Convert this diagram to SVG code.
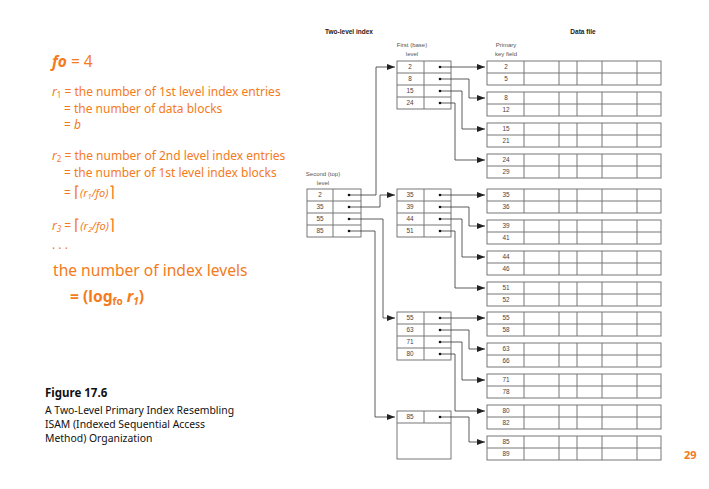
<svg xmlns="http://www.w3.org/2000/svg" width="709" height="489" viewBox="0 0 709 489">
<defs>
<marker id="ah" markerUnits="userSpaceOnUse" markerWidth="8" markerHeight="6" refX="8" refY="3" orient="auto">
<path d="M0,0 L8,3 L0,6 z" fill="#222"/>
</marker>
<style>
.or{font-family:"Noto Sans","Liberation Sans",sans-serif;fill:#F47B20}
.cap{font-family:"Noto Sans","Liberation Sans",sans-serif;fill:#111}
.lbl{font-family:"Liberation Sans",Arial,sans-serif;font-size:6px;fill:#555;text-anchor:middle}
.hd{font-family:"Liberation Sans",Arial,sans-serif;font-size:6.5px;font-weight:bold;fill:#222;text-anchor:middle}
.num{font-family:"Liberation Sans",Arial,sans-serif;font-size:6.4px;fill:#444;text-anchor:middle}
.box{fill:#fff;stroke:#777;stroke-width:1}
.ln{fill:none;stroke:#777;stroke-width:1}
.con{fill:none;stroke:#333;stroke-width:0.8;marker-end:url(#ah)}
.dot{fill:#111}
</style>
</defs>
<rect width="709" height="489" fill="#fff"/>

<g id="left-text">
<text class="or" x="52" y="67" font-size="15.5"><tspan font-weight="bold" font-style="italic">fo</tspan> = 4</text>
<text class="or" x="52" y="96" font-size="12"><tspan font-style="italic">r</tspan><tspan font-size="8" dy="2">1</tspan><tspan dy="-2"> = the number of 1st level index entries</tspan></text>
<text class="or" x="64" y="112.5" font-size="12">= the number of data blocks</text>
<text class="or" x="64" y="129" font-size="12">= <tspan font-style="italic">b</tspan></text>
<text class="or" x="52" y="160" font-size="12"><tspan font-style="italic">r</tspan><tspan font-size="8" dy="2">2</tspan><tspan dy="-2"> = the number of 2nd level index entries</tspan></text>
<text class="or" x="64" y="176.5" font-size="12">= the number of 1st level index blocks</text>
<text class="or" x="64" y="197" font-size="12">= <tspan font-size="15">⌈</tspan><tspan font-style="italic" font-size="11">(r</tspan><tspan font-style="italic" font-size="7.5" dy="2">1</tspan><tspan font-style="italic" font-size="11" dy="-2">/fo)</tspan><tspan font-size="15">⌉</tspan></text>
<text class="or" x="52" y="230" font-size="12"><tspan font-style="italic">r</tspan><tspan font-style="italic" font-size="8" dy="2">3</tspan><tspan dy="-2"> = </tspan><tspan font-size="15">⌈</tspan><tspan font-style="italic" font-size="11">(r</tspan><tspan font-style="italic" font-size="7.5" dy="2">2</tspan><tspan font-style="italic" font-size="11" dy="-2">/fo)</tspan><tspan font-size="15">⌉</tspan></text>
<text class="or" x="52" y="249" font-size="12">. . .</text>
<text class="or" x="53" y="276" font-size="15.6">the number of index levels</text>
<text class="or" x="70" y="302" font-size="15.6" font-weight="bold">= (log<tspan font-size="10" dy="3">fo</tspan><tspan dy="-3"> </tspan><tspan font-style="italic">r</tspan><tspan font-style="italic" font-size="10" dy="3">1</tspan><tspan dy="-3">)</tspan></text>
</g>

<g id="caption">
<text class="cap" x="45" y="397" font-size="11.5" font-weight="bold">Figure 17.6</text>
<text class="cap" x="45" y="414" font-size="10.4">A Two-Level Primary Index Resembling</text>
<text class="cap" x="45" y="428" font-size="10.4">ISAM (Indexed Sequential Access</text>
<text class="cap" x="45" y="442" font-size="10.4">Method) Organization</text>
</g>

<text class="or" x="684" y="459" font-size="11" font-weight="bold">29</text>

<g id="headers">
<text class="hd" x="349" y="34">Two-level index</text>
<text class="hd" x="583" y="34">Data file</text>
<text class="lbl" x="412" y="47">First (base)</text>
<text class="lbl" x="412" y="56">level</text>
<text class="lbl" x="506" y="47">Primary</text>
<text class="lbl" x="506" y="56">key field</text>
<text class="lbl" x="323" y="176">Second (top)</text>
<text class="lbl" x="323" y="185">level</text>
</g>

<g id="second-level">
<rect class="box" x="307" y="189" width="54" height="48"/>
<path class="ln" d="M333,189V237M307,201H361M307,213H361M307,225H361"/>
<text class="num" x="320" y="197">2</text>
<text class="num" x="320" y="209">35</text>
<text class="num" x="320" y="221">55</text>
<text class="num" x="320" y="233">85</text>
</g>

<g id="first-level-1">
<rect class="box" x="397" y="61" width="54" height="48"/>
<path class="ln" d="M424,61V109M397,73H451M397,85H451M397,97H451"/>
<text class="num" x="410" y="69">2</text>
<text class="num" x="410" y="81">8</text>
<text class="num" x="410" y="93">15</text>
<text class="num" x="410" y="105">24</text>
</g>
<g id="first-level-2">
<rect class="box" x="397" y="189" width="54" height="48"/>
<path class="ln" d="M424,189V237M397,201H451M397,213H451M397,225H451"/>
<text class="num" x="410" y="197">35</text>
<text class="num" x="410" y="209">39</text>
<text class="num" x="410" y="221">44</text>
<text class="num" x="410" y="233">51</text>
</g>
<g id="first-level-3">
<rect class="box" x="397" y="312" width="54" height="48"/>
<path class="ln" d="M424,312V360M397,324H451M397,336H451M397,348H451"/>
<text class="num" x="410" y="320">55</text>
<text class="num" x="410" y="332">63</text>
<text class="num" x="410" y="344">71</text>
<text class="num" x="410" y="356">80</text>
</g>
<g id="first-level-4">
<rect class="box" x="397" y="411" width="54" height="48"/>
<path class="ln" d="M424,411V423M397,423H451"/>
<text class="num" x="410" y="419">85</text>
</g>

<g id="data-file">
<g id="d1"><rect class="box" x="487" y="61" width="174" height="24"/><path class="ln" d="M487,73H661M524,61V85M559,61V85M577,61V85M602,61V85M637,61V85"/><text class="num" x="506" y="69">2</text><text class="num" x="506" y="81">5</text></g>
<g id="d2"><rect class="box" x="487" y="92" width="174" height="24"/><path class="ln" d="M487,104H661M524,92V116M559,92V116M577,92V116M602,92V116M637,92V116"/><text class="num" x="506" y="100">8</text><text class="num" x="506" y="112">12</text></g>
<g id="d3"><rect class="box" x="487" y="123" width="174" height="24"/><path class="ln" d="M487,135H661M524,123V147M559,123V147M577,123V147M602,123V147M637,123V147"/><text class="num" x="506" y="131">15</text><text class="num" x="506" y="143">21</text></g>
<g id="d4"><rect class="box" x="487" y="154" width="174" height="24"/><path class="ln" d="M487,166H661M524,154V178M559,154V178M577,154V178M602,154V178M637,154V178"/><text class="num" x="506" y="162">24</text><text class="num" x="506" y="174">29</text></g>
<g id="d5"><rect class="box" x="487" y="189" width="174" height="24"/><path class="ln" d="M487,201H661M524,189V213M559,189V213M577,189V213M602,189V213M637,189V213"/><text class="num" x="506" y="197">35</text><text class="num" x="506" y="209">36</text></g>
<g id="d6"><rect class="box" x="487" y="220" width="174" height="24"/><path class="ln" d="M487,232H661M524,220V244M559,220V244M577,220V244M602,220V244M637,220V244"/><text class="num" x="506" y="228">39</text><text class="num" x="506" y="240">41</text></g>
<g id="d7"><rect class="box" x="487" y="251" width="174" height="24"/><path class="ln" d="M487,263H661M524,251V275M559,251V275M577,251V275M602,251V275M637,251V275"/><text class="num" x="506" y="259">44</text><text class="num" x="506" y="271">46</text></g>
<g id="d8"><rect class="box" x="487" y="282" width="174" height="24"/><path class="ln" d="M487,294H661M524,282V306M559,282V306M577,282V306M602,282V306M637,282V306"/><text class="num" x="506" y="290">51</text><text class="num" x="506" y="302">52</text></g>
<g id="d9"><rect class="box" x="487" y="312" width="174" height="24"/><path class="ln" d="M487,324H661M524,312V336M559,312V336M577,312V336M602,312V336M637,312V336"/><text class="num" x="506" y="320">55</text><text class="num" x="506" y="332">58</text></g>
<g id="d10"><rect class="box" x="487" y="343" width="174" height="24"/><path class="ln" d="M487,355H661M524,343V367M559,343V367M577,343V367M602,343V367M637,343V367"/><text class="num" x="506" y="351">63</text><text class="num" x="506" y="363">66</text></g>
<g id="d11"><rect class="box" x="487" y="374" width="174" height="24"/><path class="ln" d="M487,386H661M524,374V398M559,374V398M577,374V398M602,374V398M637,374V398"/><text class="num" x="506" y="382">71</text><text class="num" x="506" y="394">78</text></g>
<g id="d12"><rect class="box" x="487" y="405" width="174" height="24"/><path class="ln" d="M487,417H661M524,405V429M559,405V429M577,405V429M602,405V429M637,405V429"/><text class="num" x="506" y="413">80</text><text class="num" x="506" y="425">82</text></g>
<g id="d13"><rect class="box" x="487" y="436" width="174" height="24"/><path class="ln" d="M487,448H661M524,436V460M559,436V460M577,436V460M602,436V460M637,436V460"/><text class="num" x="506" y="444">85</text><text class="num" x="506" y="456">89</text></g>
</g>

<g id="connectors">
<polyline class="con" points="349,195 376,195 376,67 395,67"/>
<polyline class="con" points="349,207 380,207 380,195 395,195"/>
<polyline class="con" points="349,219 383,219 383,318 395,318"/>
<polyline class="con" points="349,231 375,231 375,417 395,417"/>
<polyline class="con" points="440,67 485,67"/>
<polyline class="con" points="440,79 469,79 469,98 485,98"/>
<polyline class="con" points="440,91 462,91 462,129 485,129"/>
<polyline class="con" points="440,103 455,103 455,160 485,160"/>
<polyline class="con" points="440,195 485,195"/>
<polyline class="con" points="440,207 469,207 469,226 485,226"/>
<polyline class="con" points="440,219 462,219 462,257 485,257"/>
<polyline class="con" points="440,231 455,231 455,288 485,288"/>
<polyline class="con" points="440,318 485,318"/>
<polyline class="con" points="440,330 469,330 469,349 485,349"/>
<polyline class="con" points="440,342 462,342 462,380 485,380"/>
<polyline class="con" points="440,354 455,354 455,411 485,411"/>
<polyline class="con" points="440,417 469,417 469,442 485,442"/>
<g class="dot">
<circle cx="349" cy="195" r="1.3"/><circle cx="349" cy="207" r="1.3"/><circle cx="349" cy="219" r="1.3"/><circle cx="349" cy="231" r="1.3"/>
<circle cx="440" cy="67" r="1.3"/><circle cx="440" cy="79" r="1.3"/><circle cx="440" cy="91" r="1.3"/><circle cx="440" cy="103" r="1.3"/>
<circle cx="440" cy="195" r="1.3"/><circle cx="440" cy="207" r="1.3"/><circle cx="440" cy="219" r="1.3"/><circle cx="440" cy="231" r="1.3"/>
<circle cx="440" cy="318" r="1.3"/><circle cx="440" cy="330" r="1.3"/><circle cx="440" cy="342" r="1.3"/><circle cx="440" cy="354" r="1.3"/>
<circle cx="440" cy="417" r="1.3"/>
</g>
</g>
</svg>
